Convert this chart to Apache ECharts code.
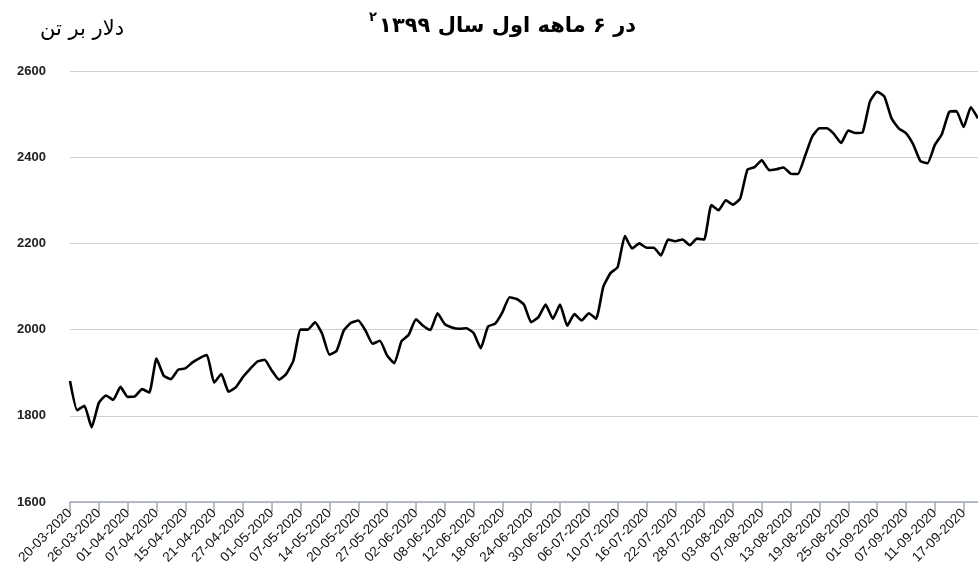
<!DOCTYPE html>
<html>
<head>
<meta charset="utf-8">
<script src="https://cdn.jsdelivr.net/npm/echarts@6/dist/echarts.min.js"></script>
<style>
	html, body { margin: 0; padding: 0; background: #fff; }
	#chart { width: 978px; height: 576px; }
</style>
</head>
<body>
<div id="chart"></div>
<script>
// تاریخ‌های معاملاتی (روزهای کاری)
const dates = [
	'20-03-2020', '23-03-2020', '24-03-2020', '25-03-2020', '26-03-2020', '27-03-2020', '30-03-2020', '31-03-2020',
	'01-04-2020', '02-04-2020', '03-04-2020', '06-04-2020', '07-04-2020', '08-04-2020', '09-04-2020', '14-04-2020',
	'15-04-2020', '16-04-2020', '17-04-2020', '20-04-2020', '21-04-2020', '22-04-2020', '23-04-2020', '24-04-2020',
	'27-04-2020', '28-04-2020', '29-04-2020', '30-04-2020', '01-05-2020', '04-05-2020', '05-05-2020', '06-05-2020',
	'07-05-2020', '11-05-2020', '12-05-2020', '13-05-2020', '14-05-2020', '15-05-2020', '18-05-2020', '19-05-2020',
	'20-05-2020', '21-05-2020', '22-05-2020', '26-05-2020', '27-05-2020', '28-05-2020', '29-05-2020', '01-06-2020',
	'02-06-2020', '03-06-2020', '04-06-2020', '05-06-2020', '08-06-2020', '09-06-2020', '10-06-2020', '11-06-2020',
	'12-06-2020', '15-06-2020', '16-06-2020', '17-06-2020', '18-06-2020', '19-06-2020', '22-06-2020', '23-06-2020',
	'24-06-2020', '25-06-2020', '26-06-2020', '29-06-2020', '30-06-2020', '01-07-2020', '02-07-2020', '03-07-2020',
	'06-07-2020', '07-07-2020', '08-07-2020', '09-07-2020', '10-07-2020', '13-07-2020', '14-07-2020', '15-07-2020',
	'16-07-2020', '17-07-2020', '20-07-2020', '21-07-2020', '22-07-2020', '23-07-2020', '24-07-2020', '27-07-2020',
	'28-07-2020', '29-07-2020', '30-07-2020', '31-07-2020', '03-08-2020', '04-08-2020', '05-08-2020', '06-08-2020',
	'07-08-2020', '10-08-2020', '11-08-2020', '12-08-2020', '13-08-2020', '14-08-2020', '17-08-2020', '18-08-2020',
	'19-08-2020', '20-08-2020', '21-08-2020', '24-08-2020', '25-08-2020', '26-08-2020', '27-08-2020', '28-08-2020',
	'01-09-2020', '02-09-2020', '03-09-2020', '04-09-2020', '07-09-2020', '08-09-2020', '09-09-2020', '10-09-2020',
	'11-09-2020', '14-09-2020', '15-09-2020', '16-09-2020', '17-09-2020', '18-09-2020', '21-09-2020'
];

// قیمت (دلار بر تن)
const prices = [
	1881, 1813, 1823, 1773, 1830, 1847, 1837, 1867, 1844, 1845, 1862, 1854, 1933, 1893, 1885, 1907,
	1910, 1924, 1934, 1941, 1877, 1897, 1856, 1866, 1890, 1909, 1926, 1930, 1905, 1884, 1897, 1928,
	2000, 2000, 2017, 1990, 1942, 1951, 1998, 2016, 2021, 1998, 1967, 1974, 1940, 1922, 1973, 1988,
	2024, 2009, 1999, 2038, 2013, 2005, 2002, 2003, 1992, 1957, 2007, 2014, 2040, 2075, 2071, 2058,
	2017, 2029, 2058, 2025, 2058, 2009, 2036, 2021, 2038, 2025, 2099, 2131, 2145, 2217, 2188, 2200,
	2190, 2190, 2172, 2209, 2205, 2209, 2196, 2211, 2209, 2289, 2277, 2300, 2290, 2304, 2371, 2377,
	2393, 2370, 2372, 2376, 2362, 2361, 2403, 2448, 2467, 2467, 2454, 2433, 2462, 2456, 2458, 2529,
	2552, 2541, 2490, 2467, 2456, 2430, 2391, 2386, 2428, 2454, 2505, 2507, 2470, 2516, 2490
];

const titleText = 'در ۶ ماهه اول سال ۱۳۹۹';
const titleNote = '۲';
const unitText = 'دلار بر تن';

const chart = echarts.init(document.getElementById('chart'), null, { renderer: 'canvas' });

const option = {
	animation: false,
	backgroundColor: '#fff',
	graphic: [
		{
			type: 'text',
			right: 978 - 636,
			top: 16,
			style: {
				text: titleText,
				font: 'bold 21px "DejaVu Sans", sans-serif',
				fill: '#000',
			},
		},
		{
			type: 'text',
			left: 369,
			top: 11,
			style: {
				text: titleNote,
				font: 'bold 13px "DejaVu Sans", sans-serif',
				fill: '#000',
			},
		},
		{
			type: 'text',
			left: 40,
			top: 19,
			style: {
				text: unitText,
				font: '21px "DejaVu Sans", sans-serif',
				fill: '#000',
			},
		},
	],
	grid: {
		left: 70,
		right: -3,
		top: 71,
		bottom: 74,
		containLabel: false,
	},
	xAxis: {
		type: 'category',
		data: dates,
		boundaryGap: false,
		axisLine: {
			lineStyle: { color: '#a3abb8', width: 1.5 },
		},
		axisTick: {
			interval: 3,
			length: 10,
			lineStyle: { color: '#a3abb8', width: 1.5 },
		},
		axisLabel: {
			interval: 3,
			rotate: 45,
			margin: 9,
			color: '#111',
			fontFamily: '"Liberation Sans", Arial, sans-serif',
			fontSize: 13.5,
		},
		splitLine: { show: false },
	},
	yAxis: {
		type: 'value',
		min: 1600,
		max: 2600,
		interval: 200,
		axisLine: { show: false },
		axisTick: { show: false },
		axisLabel: {
			margin: 24,
			color: '#222',
			fontFamily: '"Liberation Sans", Arial, sans-serif',
			fontWeight: 'bold',
			fontSize: 13,
			formatter: (value) => String(value),
		},
		splitLine: {
			lineStyle: { color: '#d0d0d0', width: 1 },
		},
	},
	series: [
		{
			type: 'line',
			data: prices,
			smooth: 0.15,
			showSymbol: false,
			clip: true,
			lineStyle: { color: '#000', width: 2.6, join: 'round' },
		},
	],
};

chart.setOption(option);
</script>
</body>
</html>
